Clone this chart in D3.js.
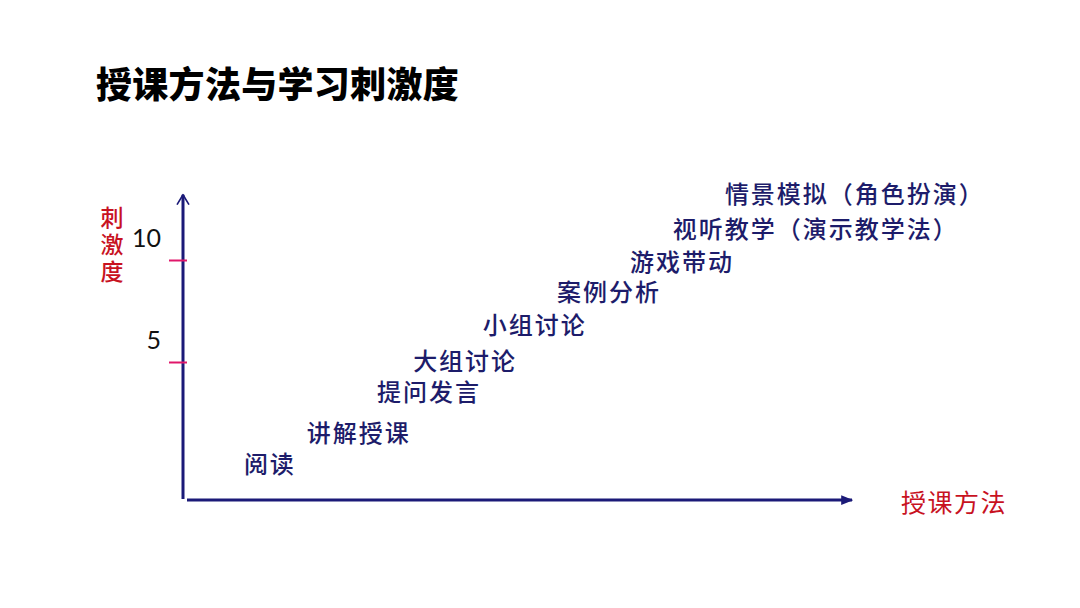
<!DOCTYPE html>
<html>
<head>
<meta charset="utf-8">
<script src="https://cdn.jsdelivr.net/npm/d3@7"></script>
<style>
  html, body { margin: 0; padding: 0; background: #fff; }
  svg { display: block; font-family: "Noto Sans CJK SC", "Noto Sans", sans-serif; }
</style>
</head>
<body>
<div class="chart"></div>
<script>
// DATA ------------------------------
const methods = ["阅读", "讲解授课", "提问发言", "大组讨论", "小组讨论", "案例分析", "游戏带动", "视听教学（演示教学法）", "情景模拟（角色扮演）"];
const methodPos = [0.91, 1.85, 2.9, 3.44, 4.48, 5.59, 6.68, 7.32, 8.1];   // place along 授课方法 axis
const stimulus = [0.05, 1.6, 3.6, 5.1, 6.9, 8.5, 10.0, 11.6, 13.3];    // 刺激度
const yTicks = [5, 10];

const width = 1080, height = 608;

const svg = d3.select(".chart")
    .append("svg")
    .attr("width", width)
    .attr("height", height);

// scales
const xScale = d3.scaleLinear()
    .domain([0, 10])
    .range([183, 852]);

const yScale = d3.scaleLinear()
    .domain([0, 10])
    .range([464, 260]);

const navy = "#1b1a78";
const red = "#c8121f";

// arrow heads
const defs = svg.append("defs");
defs.append("marker")
    .attr("id", "arrowOpen")
    .attr("viewBox", "0 0 10 10")
    .attr("refX", 9).attr("refY", 5)
    .attr("markerWidth", 4.5).attr("markerHeight", 4.5)
    .attr("markerUnits", "strokeWidth")
    .attr("orient", "auto")
    .append("path")
    .attr("d", "M2,0.8 L9,5 L2,9.2")
    .attr("fill", "none")
    .attr("stroke", navy)
    .attr("stroke-width", 1.2)
    .attr("stroke-linecap", "round")
    .attr("stroke-linejoin", "round");

defs.append("marker")
    .attr("id", "arrowFill")
    .attr("viewBox", "0 0 10 10")
    .attr("refX", 9).attr("refY", 5)
    .attr("markerWidth", 4).attr("markerHeight", 4)
    .attr("markerUnits", "strokeWidth")
    .attr("orient", "auto")
    .append("path")
    .attr("d", "M0,1 L10,5 L0,9 Z")
    .attr("fill", navy);

// title
svg.append("text")
    .attr("x", 96)
    .attr("y", 82)
    .attr("dominant-baseline", "central")
    .style("font-size", "36px")
    .style("font-weight", 900)
    .style("letter-spacing", "0.3px")
    .attr("fill", "#000")
    .text("授课方法与学习刺激度");

// y axis line (value range below 0 down to the origin)
const yBottom = -1.72, yTop = 13.2;
svg.append("line")
    .attr("x1", xScale(0)).attr("x2", xScale(0))
    .attr("y1", yScale(yBottom)).attr("y2", yScale(yTop))
    .attr("stroke", navy)
    .attr("stroke-width", 3)
    .attr("marker-end", "url(#arrowOpen)");

// x axis line
svg.append("line")
    .attr("x1", xScale(0) + 4).attr("x2", xScale(10))
    .attr("y1", yScale(yBottom) + 1).attr("y2", yScale(yBottom) + 1)
    .attr("stroke", navy)
    .attr("stroke-width", 3)
    .attr("marker-end", "url(#arrowFill)");

// ticks with labels above them
const yAxis = d3.axisLeft(yScale)
    .tickValues(yTicks)
    .tickSize(18)
    .tickFormat(d3.format("d"));

const yAxisG = svg.append("g")
    .attr("class", "axis y-axis")
    .attr("transform", "translate(187,0)")
    .call(yAxis);

yAxisG.select(".domain").remove();
yAxisG.selectAll(".tick line")
    .attr("stroke", "#e0176a")
    .attr("stroke-width", 2);
yAxisG.selectAll(".tick text")
    .attr("x", -26)
    .attr("y", -22)
    .attr("dy", "0.35em")
    .attr("fill", "#111")
    .style("font-family", "Lato, 'Noto Sans', sans-serif")
    .style("font-size", "25px")
    .style("font-weight", 400);

// axis titles
svg.append("text")
    .attr("x", 112)
    .attr("y", 206)
    .attr("fill", red)
    .style("writing-mode", "vertical-rl")
    .style("font-size", "23px")
    .style("font-weight", 500)
    .style("letter-spacing", "4px")
    .text("刺激度");

svg.append("text")
    .attr("x", 901)
    .attr("y", 501)
    .attr("dominant-baseline", "central")
    .attr("fill", red)
    .style("font-size", "25px")
    .style("letter-spacing", "1.5px")
    .text("授课方法");

// method labels
svg.selectAll(".method")
    .data(methods)
    .enter()
    .append("text")
    .attr("class", "method")
    .attr("x", (d, i) => xScale(methodPos[i]))
    .attr("y", (d, i) => yScale(stimulus[i]))
    .attr("dominant-baseline", "central")
    .attr("fill", "#1d1c6a")
    .style("font-size", "24px")
    .style("font-weight", 500)
    .style("letter-spacing", "2px")
    .text(d => d);
</script>
</body>
</html>
